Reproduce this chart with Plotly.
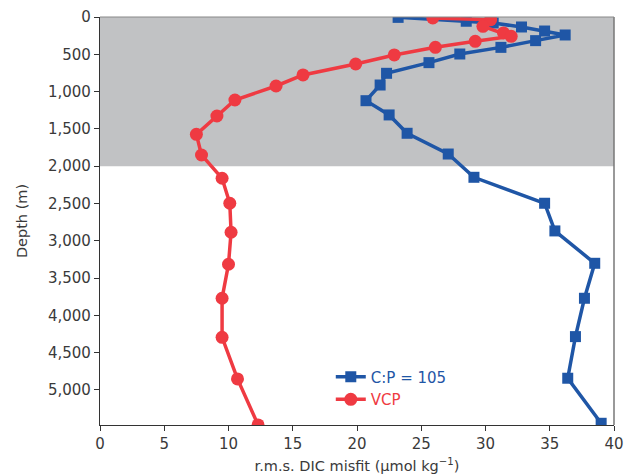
import plotly.graph_objects as go

# C:P = 105 series
cp_misfit = [23.2, 28.5, 30.6, 32.8, 34.6, 36.2, 33.9, 31.2, 28.0, 25.6, 22.3, 21.8,
             20.7, 22.5, 23.9, 27.1, 29.1, 34.6, 35.4, 38.5, 37.7, 37.0, 36.4, 39.0]
cp_depth = [5, 57, 80, 134, 188, 241, 317, 407, 496, 612, 755, 912,
            1122, 1313, 1559, 1837, 2149, 2497, 2868, 3302, 3771, 4285, 4843, 5447]

# VCP series
vcp_misfit = [25.9, 30.4, 29.8, 31.4, 32.0, 29.2, 26.1, 22.9, 19.9, 15.8, 13.7, 10.5,
              9.1, 7.5, 7.9, 9.5, 10.1, 10.2, 10.0, 9.5, 9.5, 10.7, 12.3]
vcp_depth = [13, 36, 125, 214, 259, 326, 406, 509, 630, 777, 925, 1113,
             1327, 1573, 1850, 2162, 2497, 2886, 3315, 3771, 4294, 4852, 5469]

x_ticks = [0, 5, 10, 15, 20, 25, 30, 35, 40]
y_ticks = [0, 500, 1000, 1500, 2000, 2500, 3000, 3500, 4000, 4500, 5000]
shade_depth = 2000

BLUE = "#1f56a6"
RED = "#ef3a42"
FONT = "DejaVu Sans"

fig = go.Figure()
fig.add_shape(type="rect", xref="paper", yref="y", x0=0, x1=1, y0=0, y1=shade_depth,
              fillcolor="#c1c2c4", line_width=0, layer="below")

fig.add_trace(go.Scatter(
    x=cp_misfit, y=cp_depth, mode="lines+markers",
    name="<span style='color:%s'>C:P = 105</span>" % BLUE,
    line=dict(color=BLUE, width=3.5),
    marker=dict(symbol="square", size=11, color=BLUE),
))
fig.add_trace(go.Scatter(
    x=vcp_misfit, y=vcp_depth, mode="lines+markers",
    name="<span style='color:%s'>VCP</span>" % RED,
    line=dict(color=RED, width=3.5),
    marker=dict(symbol="circle", size=13, color=RED),
))

fig.update_layout(
    width=626, height=475,
    margin=dict(l=100, r=12, t=17, b=50, autoexpand=False),
    paper_bgcolor="white", plot_bgcolor="white",
    font=dict(family=FONT, size=15, color="#3a3a3a"),
    showlegend=True,
    legend=dict(x=0.449, y=0.158, xanchor="left", yanchor="top",
                bgcolor="rgba(0,0,0,0)", font=dict(size=15),
                itemwidth=30, tracegroupgap=0),
)
fig.update_xaxes(
    range=[0, 40], tickvals=x_ticks, ticks="outside", ticklen=5, tickwidth=1,
    tickcolor="#333", showline=True, linecolor="#333", linewidth=1.3,
    mirror=False, showgrid=False, zeroline=False, automargin=False,
    title=dict(text="r.m.s. DIC misfit (μmol kg<sup>−1</sup>)", standoff=8,
               font=dict(size=14.5)),
)
fig.update_yaxes(
    range=[5470, 0], tickvals=y_ticks, tickformat=",d", ticks="outside", ticklen=5,
    tickwidth=1, tickcolor="#333", showline=True, linecolor="#333", linewidth=1.3,
    showgrid=False, zeroline=False, automargin=False,
    title=dict(text="Depth (m)", standoff=16, font=dict(size=14.5)),
)
# right and top frame lines
fig.add_shape(type="line", xref="paper", yref="paper", x0=1, x1=1, y0=0, y1=1,
              line=dict(color="#777777", width=1.5))
fig.add_shape(type="line", xref="paper", yref="paper", x0=0, x1=1, y0=1, y1=1,
              line=dict(color="#888888", width=1))

fig.write_html(
    "out.html",
    config={"displayModeBar": False},
    post_script="document.body.style.margin='0';document.body.style.overflow='hidden';",
)
